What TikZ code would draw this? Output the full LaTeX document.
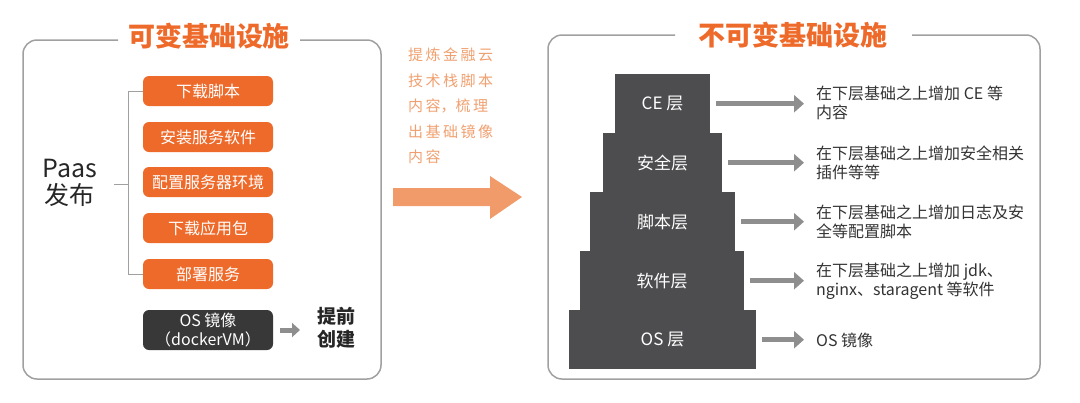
\documentclass[tikz,border=0pt]{standalone}
\usepackage{fontspec}
\setmainfont{Noto Sans CJK SC}
\usetikzlibrary{arrows.meta}
\definecolor{org}{HTML}{EE6A2A}
\definecolor{lorg}{HTML}{F0A070}
\definecolor{dk}{HTML}{4D4D4F}
\definecolor{fr}{HTML}{A0A0A0}
\definecolor{ar}{HTML}{8E8E8E}
\begin{document}
\begin{tikzpicture}[x=1pt,y=-1pt,
 obox/.style={fill=org,rounded corners=6pt,minimum width=130pt,minimum height=30pt,text=white,font=\fontsize{16}{16}\selectfont,inner sep=0pt},
 layer/.style={fill=dk,text=white,font=\fontsize{17}{17}\selectfont,inner sep=0pt,anchor=north},
 garr/.style={draw=ar,line width=5pt,-{Triangle[length=10pt,width=17pt]}},
 desc/.style={anchor=west,align=left,text=black!80,font=\fontsize{16}{19}\selectfont,inner sep=0pt}]
\useasboundingbox (0,0) rectangle (1080,402);
% left frame
\draw[fr,line width=1.5pt,rounded corners=14pt] (118,40) -- (23,40) -- (23,379) -- (381,379) -- (381,40) -- (300,40);
\node[text=org,font=\bfseries\fontsize{27}{27}\selectfont] (t1) at (209,36) {可变基础设施};
\node[obox] (b1) at (208,91) {下载脚本};
\node[obox] (b2) at (208,137) {安装服务软件};
\node[obox] (b3) at (208,182) {配置服务器环境};
\node[obox] (b4) at (208,228) {下载应用包};
\node[obox] (b5) at (208,274) {部署服务};
\node[font=\fontsize{25}{27}\selectfont,align=center,text=black!85] (paas) at (70,183) {Paas\\发布};
\draw[fr,line width=1pt] (b1.west) -- (128,91) -- (128,274) -- (b5.west);
\draw[fr,line width=1pt] (114,184) -- (128,184);
\node[fill=black!78,rounded corners=6pt,minimum width=130pt,minimum height=40pt,text=white,align=center,font=\fontsize{16}{19}\selectfont,inner sep=0pt] (os) at (208,330) {OS 镜像\\（dockerVM）};
\node[font=\bfseries\fontsize{19}{23}\selectfont,align=center,text=black!85] (pre) at (336,328) {提前\\创建};
\draw[draw=ar,line width=5pt,-{Triangle[length=8pt,width=14pt]}] (os.east)++(7,0) -- (300,330);
% middle
\node[text=lorg,align=left,anchor=north west,font=\fontsize{15}{25.5}\selectfont,inner sep=0pt] (mid) at (408,48) {提\,炼\,金\,融\,云\\技\,术\,栈\,脚\,本\\内\,容，梳\,理\\出\,基\,础\,镜\,像\\内\,容};
\fill[color=lorg!90!org] (393,188) -- (490,188) -- (490,176) -- (522,197) -- (490,219) -- (490,206) -- (393,206) -- cycle;
% right frame
\draw[fr,line width=1.5pt,rounded corners=14pt] (675,35) -- (548,35) -- (548,379) -- (1040,379) -- (1040,35) -- (912,35);
\node[text=org,font=\bfseries\fontsize{27}{27}\selectfont] (t2) at (793,35) {不可变基础设施};
\node[layer,minimum width=95pt,minimum height=59pt] (l1) at (662.5,74) {CE 层};
\node[layer,minimum width=119pt,minimum height=59pt] (l2) at (662.5,133) {安全层};
\node[layer,minimum width=145pt,minimum height=59pt] (l3) at (662.5,192) {脚本层};
\node[layer,minimum width=164pt,minimum height=59pt] (l4) at (662,251) {软件层};
\node[layer,minimum width=187pt,minimum height=59pt] (l5) at (662.5,310) {OS 层};
\node[desc] (d1) at (816,103) {在下层基础之上增加 CE 等\\内容};
\node[desc] (d2) at (816,163) {在下层基础之上增加安全相关\\插件等等};
\node[desc] (d3) at (816,222) {在下层基础之上增加日志及安\\全等配置脚本};
\node[desc] (d4) at (816,281) {在下层基础之上增加 jdk、\\nginx、staragent 等软件};
\node[desc] (d5) at (816,340) {OS 镜像};
\draw[garr] ([xshift=6pt]l1.east) -- ([xshift=-12pt]d1.west|-l1.east);
\draw[garr] ([xshift=6pt]l2.east) -- ([xshift=-12pt]d2.west|-l2.east);
\draw[garr] ([xshift=6pt]l3.east) -- ([xshift=-12pt]d3.west|-l3.east);
\draw[garr] ([xshift=6pt]l4.east) -- ([xshift=-12pt]d4.west|-l4.east);
\draw[garr] ([xshift=6pt]l5.east) -- ([xshift=-12pt]d5.west|-l5.east);
\end{tikzpicture}
\end{document}
